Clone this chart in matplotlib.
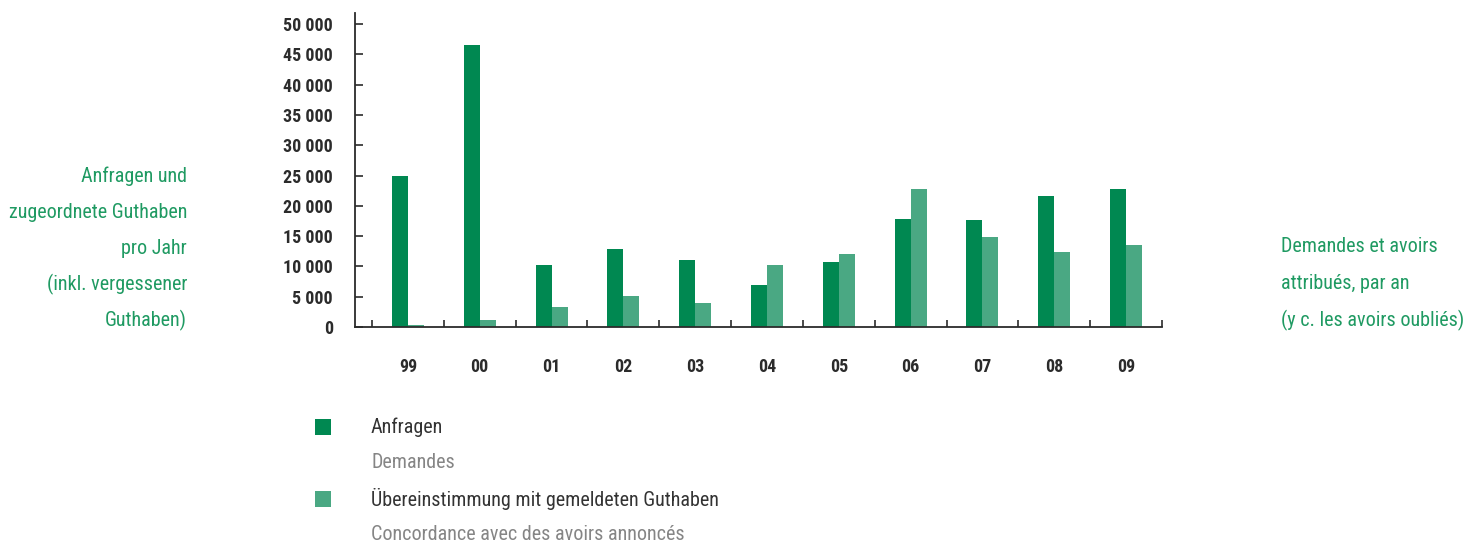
import matplotlib
matplotlib.use("Agg")
import matplotlib.pyplot as plt
from matplotlib.patches import Rectangle
import numpy as np


# Data
years = ["99", "00", "01", "02", "03", "04", "05", "06", "07", "08", "09"]
anfragen = [25000, 46500, 10200, 12800, 11100, 6900, 10800, 17900, 17600, 21700, 22800]
uebereinstimmung = [400, 1100, 3300, 5200, 4000, 10300, 12100, 22800, 14800, 12400, 13600]
y_ticks = [0, 5000, 10000, 15000, 20000, 25000, 30000, 35000, 40000, 45000, 50000]
y_tick_labels = ["0", "5 000", "10 000", "15 000", "20 000", "25 000",
                 "30 000", "35 000", "40 000", "45 000", "50 000"]

left_label = ["Anfragen und", "zugeordnete Guthaben", "pro Jahr",
              "(inkl. vergessener", "Guthaben)"]
right_label = ["Demandes et avoirs", "attribués, par an", "(y c. les avoirs oubliés)"]
legend_de = ["Anfragen", "Übereinstimmung mit gemeldeten Guthaben"]
legend_fr = ["Demandes", "Concordance avec des avoirs annoncés"]

# Style
dark_green = "#008851"
light_green = "#4aa883"
label_green = "#1f9a62"
axis_color = "#2b2b2b"
grey_text = "#858585"
text_size = 14.5
plt.rcParams["font.family"] = ["Roboto Condensed", "DejaVu Sans"]

W, H = 1466, 544
fig = plt.figure(figsize=(W / 100, H / 100), dpi=100)
ax = fig.add_axes([355 / W, (H - 327) / H, 807 / W, 314.3 / H])

x = np.arange(len(years))
bar_w = 0.223
ax.bar(x - bar_w / 2, anfragen, width=bar_w, color=dark_green)
ax.bar(x + bar_w / 2, uebereinstimmung, width=bar_w, color=light_green)

ax.set_xlim(-0.737, 10.5)
ax.set_ylim(0, 51900)
for side in ["top", "right"]:
    ax.spines[side].set_visible(False)
for side in ["left", "bottom"]:
    ax.spines[side].set_color(axis_color)
    ax.spines[side].set_linewidth(1.3)

ax.set_yticks(y_ticks)
ax.set_yticklabels(y_tick_labels, fontsize=13, fontweight="bold", color=axis_color)
ax.tick_params(axis="y", direction="in", length=6, width=1.2, color=axis_color, pad=16)

ax.set_xticks(np.arange(-0.5, len(years), 1.0))
ax.set_xticklabels([])
ax.tick_params(axis="x", direction="in", length=5, width=1.2, color=axis_color)
ax.set_xticks(x, minor=True)
ax.set_xticklabels(years, minor=True, fontsize=13, fontweight="bold", color=axis_color)
ax.tick_params(axis="x", which="minor", length=0, pad=22)

# Side labels
for i, line in enumerate(left_label):
    fig.text(187 / W, 1 - (176 + i * 36.2) / H, line, ha="right", va="center",
             fontsize=text_size, color=label_green)
for i, line in enumerate(right_label):
    fig.text(1281 / W, 1 - (247 + i * 36.5) / H, line, ha="left", va="center",
             fontsize=text_size, color=label_green)

# Legend
for i, (de, fr, col) in enumerate(zip(legend_de, legend_fr, [dark_green, light_green])):
    yc = 427 + i * 72
    fig.add_artist(Rectangle((315 / W, 1 - (yc + 8) / H), 16 / W, 16 / H,
                             transform=fig.transFigure, color=col, lw=0))
    fig.text(371 / W, 1 - yc / H, de, ha="left", va="center",
             fontsize=text_size, color="#333333")
    fig.text(371 / W, 1 - (yc + 36) / H, fr, ha="left", va="center",
             fontsize=text_size, color=grey_text)

fig.savefig("out.png", dpi=100)
